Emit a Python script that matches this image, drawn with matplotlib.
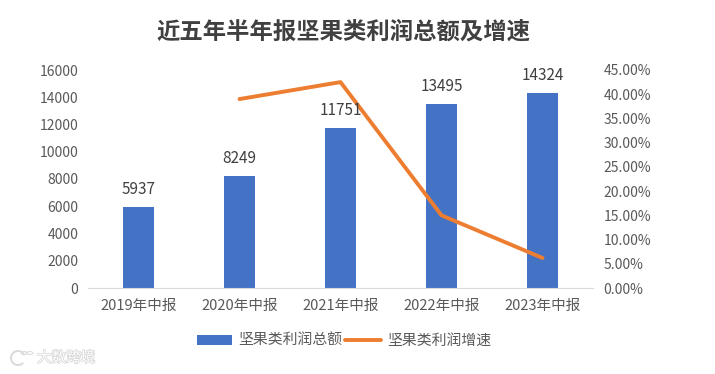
import matplotlib
matplotlib.use('Agg')
import matplotlib.pyplot as plt
import matplotlib.patheffects as pe
from matplotlib.patches import Arc, Circle
from matplotlib.ticker import FuncFormatter

plt.rcParams['font.family'] = ['Noto Sans CJK SC', 'DejaVu Sans']

categories = ['2019年中报', '2020年中报', '2021年中报', '2022年中报', '2023年中报']
profit = [5937, 8249, 11751, 13495, 14324]
growth_years = [1, 2, 3, 4]
growth = [39.0, 42.5, 15.0, 6.2]
bar_ticks = list(range(0, 16001, 2000))
growth_ticks = [i * 5 for i in range(10)]

fig = plt.figure(figsize=(7.15, 3.74), dpi=100)
ax = fig.add_axes([88 / 715, 1 - 288 / 374, 505 / 715, 218 / 374])

x = list(range(len(categories)))
bars = ax.bar(x, profit, width=0.31, color='#4472C4', zorder=2, label='坚果类利润总额')
ax.set_xlim(-0.5, 4.5)
ax.set_ylim(0, 16000)
ax.set_yticks(bar_ticks)
ax.set_xticks(x)
ax.set_xticklabels(categories)
ax.tick_params(axis='y', length=0, labelsize=10, labelcolor='#595959', pad=7)
ax.tick_params(axis='x', length=0, labelsize=10.5, labelcolor='#595959', pad=8)
for s in ['top', 'left', 'right']:
    ax.spines[s].set_visible(False)
ax.spines['bottom'].set_color('#D9D9D9')

ax2 = ax.twinx()
line, = ax2.plot(growth_years, growth, color='#ED7D31', lw=2.8, zorder=3,
                 solid_capstyle='round', label='坚果类利润增速')
ax2.set_ylim(0, 45)
ax2.set_yticks(growth_ticks)
ax2.yaxis.set_major_formatter(FuncFormatter(lambda v, p: f'{v:.2f}%'))
ax2.tick_params(axis='y', length=0, labelsize=10, labelcolor='#595959', pad=7.5)
for s in ax2.spines.values():
    s.set_visible(False)

# labels go on the upper axes so the line does not cover them
for xi, v in zip(x, profit):
    ax2.annotate(str(v), (xi, v), xycoords=ax.transData, xytext=(0, 6.5), textcoords='offset points',
                 ha='center', va='bottom', fontsize=11, color='#404040', zorder=5)

fig.text(343 / 715, 1 - 32 / 374, '近五年半年报坚果类利润总额及增速', ha='center', va='center',
         fontsize=16.8, fontweight='bold', color='#404040')

fig.legend(handles=[bars, line], loc='center', bbox_to_anchor=(344 / 715, 1 - 341 / 374),
           ncol=2, frameon=False, fontsize=10.7, labelcolor='#595959',
           handlelength=2.4, columnspacing=0.2, handletextpad=0.4)

# faint watermark in the corner
fig.text(37 / 715, 1 - 358 / 374, '大数跨境', ha='left', va='center', fontsize=10.5, color='white',
         path_effects=[pe.withStroke(linewidth=1.0, foreground='#D4D4D4')])
wm = fig.transFigure
fig.add_artist(Arc((18 / 715, 1 - 358 / 374), 14 / 715, 14 / 374, theta1=40, theta2=300,
                   transform=wm, color='#DADADA', lw=1.4))
for cx in (24, 30):
    fig.add_artist(Circle((cx / 715, 1 - 353 / 374), 0.004, transform=wm, fill=False,
                          ec='#DDDDDD', lw=0.8))

fig.savefig('out.png', dpi=100)
